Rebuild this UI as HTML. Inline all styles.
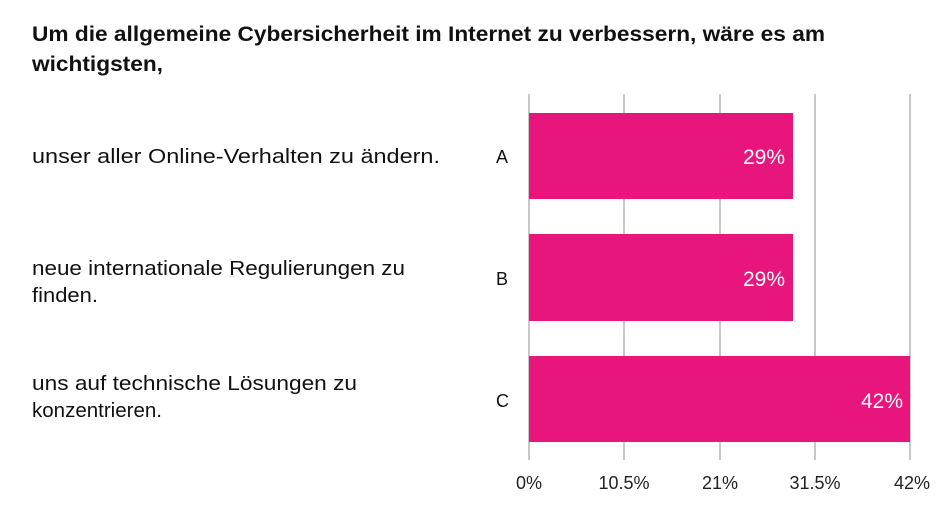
<!DOCTYPE html>
<html><head><meta charset="utf-8"><style>
body{margin:0;width:952px;height:515px;background:#fff;overflow:hidden;font-family:"Liberation Sans",sans-serif;}
svg{position:absolute;left:0;top:0}
</style></head><body>
<svg width="952" height="515" xmlns="http://www.w3.org/2000/svg" font-family="Liberation Sans, sans-serif">
<text x="32" y="41" font-size="21" font-weight="bold" fill="#111" textLength="793" lengthAdjust="spacingAndGlyphs">Um die allgemeine Cybersicherheit im Internet zu verbessern, wäre es am</text>
<text x="32" y="71" font-size="21" font-weight="bold" fill="#111" textLength="131" lengthAdjust="spacingAndGlyphs">wichtigsten,</text>
<g stroke="#c8c8c8" stroke-width="2">
<line x1="529" y1="94" x2="529" y2="460"/><line x1="624" y1="94" x2="624" y2="460"/>
<line x1="720" y1="94" x2="720" y2="460"/><line x1="815" y1="94" x2="815" y2="460"/>
<line x1="910" y1="94" x2="910" y2="460"/>
</g>
<g fill="#E8157C">
<rect x="529" y="113" width="264" height="86"/>
<rect x="529" y="234" width="264" height="87"/>
<rect x="529" y="356" width="381" height="86"/>
</g>
<g fill="#fff" font-size="21" text-anchor="end">
<text x="785" y="164">29%</text><text x="785" y="286">29%</text><text x="903" y="408">42%</text>
</g>
<g fill="#111" font-size="18">
<text x="496" y="163">A</text><text x="496" y="285">B</text><text x="496" y="407">C</text>
</g>
<g fill="#111" font-size="20" lengthAdjust="spacingAndGlyphs">
<text x="32" y="163" textLength="408" lengthAdjust="spacingAndGlyphs">unser aller Online-Verhalten zu ändern.</text>
<text x="32" y="275" textLength="373" lengthAdjust="spacingAndGlyphs">neue internationale Regulierungen zu</text>
<text x="32" y="302" textLength="66" lengthAdjust="spacingAndGlyphs">finden.</text>
<text x="32" y="390" textLength="325" lengthAdjust="spacingAndGlyphs">uns auf technische Lösungen zu</text>
<text x="32" y="417" textLength="130" lengthAdjust="spacingAndGlyphs">konzentrieren.</text>
</g>
<g fill="#222" font-size="18" text-anchor="middle">
<text x="529" y="489">0%</text><text x="624" y="489">10.5%</text><text x="720" y="489">21%</text>
<text x="815" y="489">31.5%</text><text x="912" y="489">42%</text>
</g>
</svg>
</body></html>
